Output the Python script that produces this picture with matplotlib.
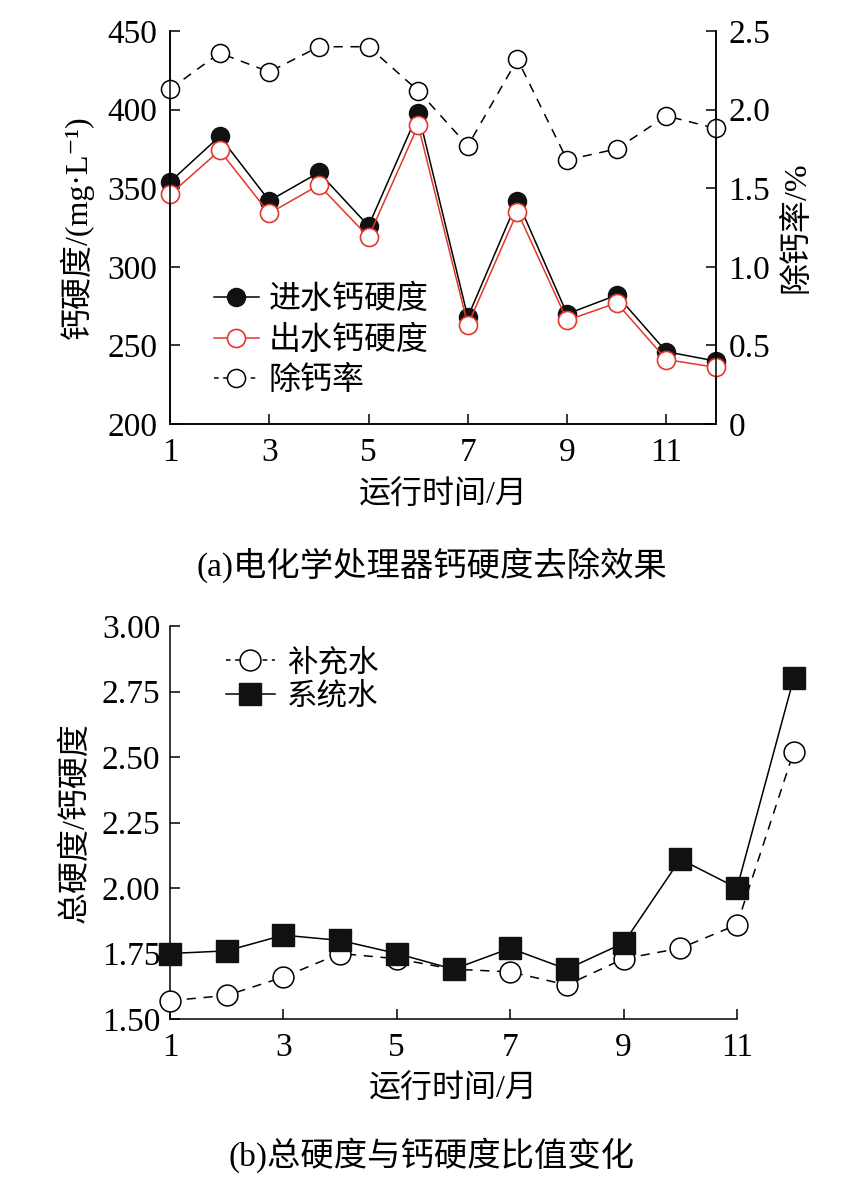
import matplotlib
matplotlib.use("Agg")
import matplotlib.pyplot as plt
from matplotlib.lines import Line2D

plt.rcParams['font.family'] = ['Liberation Serif', 'Noto Sans CJK SC', 'DejaVu Sans']
plt.rcParams['axes.unicode_minus'] = True

# 数据
months = [1, 2, 3, 4, 5, 6, 7, 8, 9, 10, 11, 12]
inlet_ca = [354, 383, 342, 360, 326, 398, 268, 342, 270, 282, 246, 240]
outlet_ca = [346, 374, 334, 352, 319, 390, 263, 335, 266, 277, 241, 236]
removal_rate = [2.13, 2.36, 2.24, 2.40, 2.40, 2.12, 1.77, 2.32, 1.68, 1.75, 1.96, 1.88]

makeup_ratio = [1.57, 1.59, 1.66, 1.75, 1.73, 1.69, 1.68, 1.63, 1.73, 1.77, 1.86, 2.52]
system_ratio = [1.75, 1.76, 1.82, 1.80, 1.75, 1.69, 1.77, 1.69, 1.79, 2.11, 2.00, 2.80]

xticks = [1, 3, 5, 7, 9, 11]
RED = '#e3372c'
TICK_FS = 24
LAB_FS = 23
LW = 1.1

fig = plt.figure(figsize=(8.64, 11.82), dpi=100)

# (a) 钙硬度去除效果
ax1 = fig.add_axes([170 / 864, 1 - 424 / 1182, 546 / 864, 393 / 1182])
ax2 = ax1.twinx()

ax1.plot(months, inlet_ca, '-o', color='black', lw=LW, ms=13,
         mfc='#111111', mec='#111111', clip_on=False, zorder=3)
ax1.plot(months, outlet_ca, '-o', color=RED, lw=LW, ms=13,
         mfc='white', mec=RED, mew=1.2, clip_on=False, zorder=4)
ax2.plot(months, removal_rate, linestyle=(0, (6, 5)), marker='o', color='black',
         lw=LW, ms=13, mfc='white', mec='black', mew=1.1, clip_on=False)

ax1.set_xlim(1, 12)
ax1.set_ylim(200, 450)
ax1.set_yticks([200, 250, 300, 350, 400, 450])
ax1.set_xticks(xticks)
ax2.set_ylim(0, 2.5)
ax2.set_yticks([0, 0.5, 1.0, 1.5, 2.0, 2.5])
ax2.set_yticklabels(['0', '0.5', '1.0', '1.5', '2.0', '2.5'])

for ax in (ax1, ax2):
    ax.spines['top'].set_visible(False)
    for s in ax.spines.values():
        s.set_linewidth(1.1)
ax1.tick_params(axis='x', direction='in', length=7, width=1.1, pad=10, labelsize=TICK_FS)
ax1.tick_params(axis='y', direction='in', length=7, width=1.1, pad=9, labelsize=TICK_FS)
ax2.tick_params(axis='y', direction='in', length=7, width=1.1, pad=9, labelsize=TICK_FS)

ax1.set_xlabel('运行时间/月', fontsize=LAB_FS, labelpad=9)
ax1.set_ylabel('钙硬度/(mg·L⁻¹)', fontsize=LAB_FS, labelpad=10)
ax2.set_ylabel('除钙率/%', fontsize=LAB_FS, labelpad=8)

h1 = Line2D([], [], color='black', lw=LW, marker='o', ms=13, mfc='#111111', mec='#111111')
h2 = Line2D([], [], color=RED, lw=LW, marker='o', ms=13, mfc='white', mec=RED, mew=1.2)
h3 = Line2D([], [], color='black', lw=LW, linestyle=(0, (3, 3)), marker='o', ms=13,
            mfc='white', mec='black', mew=1.1)
fig.legend([h1, h2, h3], ['进水钙硬度', '出水钙硬度', '除钙率'],
           loc='upper left', bbox_to_anchor=(214 / 864, 1 - 285 / 1182),
           frameon=False, fontsize=LAB_FS, handlelength=1.4, handletextpad=0.3,
           labelspacing=0.32, borderpad=0, borderaxespad=0)

fig.text(0.5, 1 - 565 / 1182, '(a)电化学处理器钙硬度去除效果', ha='center', va='center',
         fontsize=24)

# (b) 总硬度/钙硬度比值
ax3 = fig.add_axes([170 / 864, 1 - 1019 / 1182, 567 / 864, 393 / 1182])
ax3.plot(months, makeup_ratio, linestyle=(0, (6, 5)), marker='o', color='black', lw=LW,
         ms=15, mfc='white', mec='black', mew=1.1, clip_on=False, zorder=3)
ax3.plot(months, system_ratio, '-s', color='black', lw=LW, ms=16, mfc='#111111',
         mec='#111111', clip_on=False, zorder=4)
ax3.set_xlim(1, 11)
ax3.set_ylim(1.5, 3.0)
ax3.set_xticks(xticks)
ax3.set_yticks([1.50, 1.75, 2.00, 2.25, 2.50, 2.75, 3.00])
ax3.set_yticklabels(['1.50', '1.75', '2.00', '2.25', '2.50', '2.75', '3.00'])
ax3.spines['top'].set_visible(False)
ax3.spines['right'].set_visible(False)
for s in ax3.spines.values():
    s.set_linewidth(1.1)
ax3.tick_params(axis='x', direction='in', length=7, width=1.1, pad=10, labelsize=TICK_FS)
ax3.tick_params(axis='y', direction='in', length=7, width=1.1, pad=7, labelsize=TICK_FS)
ax3.set_xlabel('运行时间/月', fontsize=LAB_FS, labelpad=8)
ax3.set_ylabel('总硬度/钙硬度', fontsize=LAB_FS, labelpad=8)

h4 = Line2D([], [], color='black', lw=LW, linestyle=(0, (3, 3)), marker='o', ms=15,
            mfc='white', mec='black', mew=1.1)
h5 = Line2D([], [], color='black', lw=LW, marker='s', ms=16, mfc='#111111', mec='#111111')
fig.legend([h4, h5], ['补充水', '系统水'],
           loc='upper left', bbox_to_anchor=(226 / 864, 1 - 649 / 1182),
           frameon=False, fontsize=LAB_FS - 1, handlelength=1.6, handletextpad=0.4,
           labelspacing=0.15, borderpad=0, borderaxespad=0)

fig.text(0.5, 1 - 1155 / 1182, '(b)总硬度与钙硬度比值变化', ha='center', va='center',
         fontsize=24)

fig.savefig('out.png', dpi=100)
